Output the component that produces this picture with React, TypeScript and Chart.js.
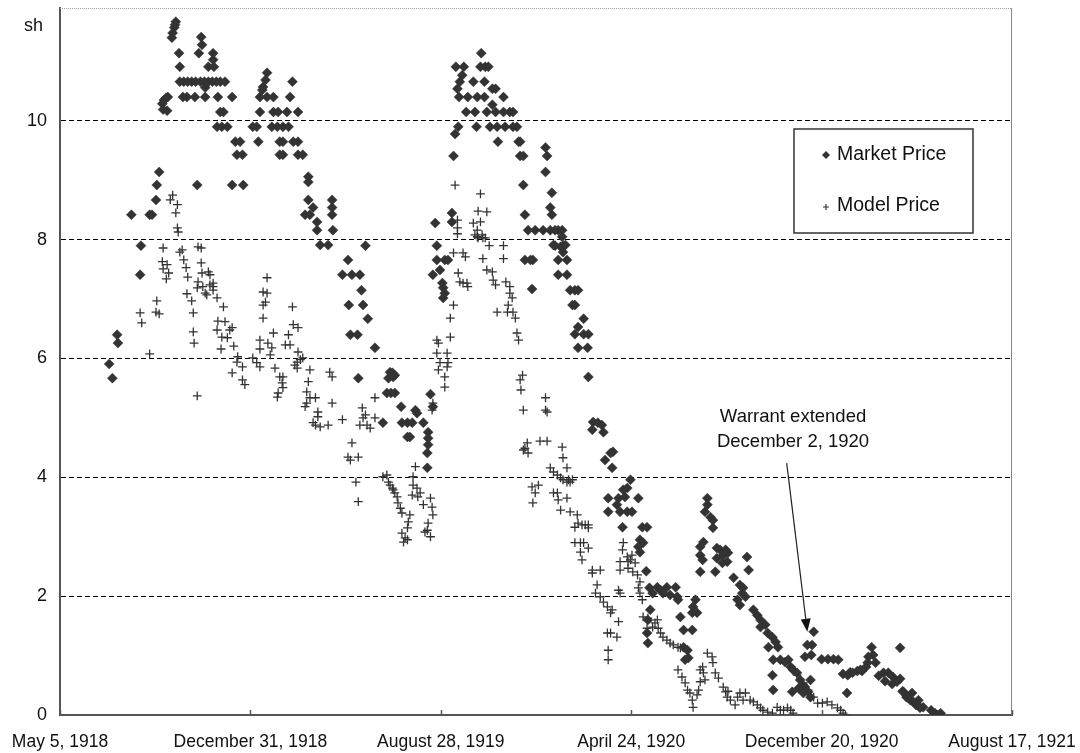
import React, { useEffect, useRef } from 'react';
import { Chart, registerables } from 'chart.js';

Chart.register(...registerables);

// x values are days counted from May 5, 1918
const xTickDays = [0, 240, 480, 720, 960, 1200];
const xTickLabels = ['May 5, 1918', 'December 31, 1918', 'August 28, 1919', 'April 24, 1920', 'December 20, 1920', 'August 17, 1921'];
const yTicks = [0, 2, 4, 6, 8, 10];
const Y_MAX = 11.9;
const X_MAX = 1200;
const yAxisTitle = 'sh';
const seriesNames = ['Market Price', 'Model Price'];
const annotationLines = ['Warrant extended', 'December 2, 1920'];
const annotationTip: [number, number] = [942, 1.4];
const annotationTail: [number, number] = [916, 4.24];
const annotationText: [number, number] = [924, 5.02];

// [day, shillings]
const marketPrice: [number, number][] = [
  [62, 5.91], [66, 5.67], [72, 6.40], [73, 6.26], [90, 8.42], [102, 7.90], [101, 7.41], [113, 8.42], [116, 8.42], [121, 8.67], [122, 8.92], [125, 9.14],
  [129, 10.29], [131, 10.35], [134, 10.39], [130, 10.19], [135, 10.17], [136, 10.40],
  [146, 11.67], [145, 11.62], [144, 11.57], [142, 11.48], [141, 11.40], [150, 11.14], [151, 10.91],
  [151, 10.66], [156, 10.66], [161, 10.66], [166, 10.66], [171, 10.66], [177, 10.66], [182, 10.66], [187, 10.66], [192, 10.66], [197, 10.66], [202, 10.66], [208, 10.66],
  [155, 10.40], [160, 10.40], [170, 10.40], [183, 10.40], [199, 10.40], [217, 10.40],
  [178, 11.41], [179, 11.28], [175, 11.14], [193, 11.14], [193, 11.03], [187, 10.91], [194, 10.91], [183, 10.56],
  [206, 10.15], [202, 10.15], [198, 9.90], [204, 9.90], [211, 9.90], [221, 9.65], [227, 9.65], [223, 9.43], [230, 9.43], [217, 8.92], [231, 8.92], [173, 8.92],
  [261, 10.81], [259, 10.69], [256, 10.57], [255, 10.52], [252, 10.40], [261, 10.40], [269, 10.40], [293, 10.66], [290, 10.40],
  [252, 10.15], [269, 10.15], [275, 10.15], [286, 10.15], [300, 10.15],
  [243, 9.90], [248, 9.90], [267, 9.90], [274, 9.90], [281, 9.90], [288, 9.90],
  [250, 9.65], [277, 9.65], [281, 9.65], [294, 9.65], [300, 9.65],
  [277, 9.43], [281, 9.43], [300, 9.43], [306, 9.43],
  [313, 9.06], [313, 8.97], [313, 8.67], [319, 8.54], [315, 8.42], [309, 8.42], [324, 8.30], [324, 8.16],
  [343, 8.67], [343, 8.54], [343, 8.42], [344, 8.16], [328, 7.91], [338, 7.91], [385, 7.90],
  [363, 7.66], [356, 7.41], [368, 7.41], [378, 7.41], [380, 7.15], [364, 6.90], [382, 6.90], [388, 6.67], [366, 6.40], [375, 6.40], [397, 6.18],
  [376, 5.67], [419, 5.76], [420, 5.69], [414, 5.67], [416, 5.77], [422, 5.72], [412, 5.42], [422, 5.42], [417, 5.42],
  [467, 5.40], [470, 5.19], [430, 5.19], [448, 5.13], [450, 5.08],
  [438, 4.92], [431, 4.92], [444, 4.92], [458, 4.92], [407, 4.92], [438, 4.68], [441, 4.68],
  [464, 4.76], [464, 4.66], [464, 4.55], [463, 4.41], [463, 4.16],
  [473, 8.28], [475, 7.90], [494, 8.45], [494, 8.30], [496, 9.41], [498, 9.78], [502, 9.90], [501, 10.54], [504, 10.66], [507, 10.77], [499, 10.91], [509, 10.91], [503, 10.40],
  [514, 10.40], [526, 10.40], [535, 10.40], [521, 10.66], [535, 10.66], [530, 10.91], [536, 10.91], [540, 10.91], [531, 11.14],
  [512, 10.15], [523, 10.15], [525, 9.90], [545, 10.54], [549, 10.54], [559, 10.40], [545, 10.27],
  [538, 10.15], [549, 10.15], [559, 10.15], [567, 10.15], [571, 10.15],
  [542, 9.90], [551, 9.90], [561, 9.90], [571, 9.90], [576, 9.90],
  [552, 9.65], [578, 9.65], [580, 9.65], [580, 9.41], [584, 9.41], [584, 8.92], [612, 9.55], [614, 9.41], [612, 9.14], [620, 8.79], [618, 8.54], [620, 8.42], [586, 8.42],
  [590, 8.16], [599, 8.16], [609, 8.16], [618, 8.16], [624, 8.16], [628, 8.16], [633, 8.16], [633, 8.05], [624, 7.90], [634, 7.90],
  [475, 7.66], [485, 7.66], [489, 7.66], [470, 7.41], [479, 7.49], [482, 7.27], [483, 7.19], [485, 7.10], [483, 7.02],
  [586, 7.66], [593, 7.66], [596, 7.66], [595, 7.17],
  [622, 7.91], [631, 7.88], [637, 7.91], [634, 7.79], [628, 7.66], [639, 7.66], [628, 7.41], [639, 7.41],
  [643, 7.15], [649, 7.15], [653, 7.15], [646, 6.90], [649, 6.90], [660, 6.67], [653, 6.53], [649, 6.41], [660, 6.41], [666, 6.41], [653, 6.18], [665, 6.18], [666, 5.69],
  [672, 4.93], [678, 4.92], [683, 4.88], [671, 4.80], [685, 4.76], [697, 4.43], [694, 4.41], [687, 4.29], [696, 4.16],
  [719, 3.96], [715, 3.82], [710, 3.79], [691, 3.65], [704, 3.65], [712, 3.67], [702, 3.54], [729, 3.65],
  [691, 3.42], [706, 3.42], [715, 3.42], [721, 3.42], [709, 3.16], [734, 3.16], [740, 3.16],
  [731, 2.95], [735, 2.90], [729, 2.83], [731, 2.74], [739, 2.42],
  [743, 2.14], [747, 2.05], [753, 2.15], [757, 2.10], [760, 2.05], [765, 2.15], [769, 2.02], [776, 2.15], [778, 1.99], [779, 1.94],
  [744, 1.77], [741, 1.60], [740, 1.38], [741, 1.21],
  [801, 1.94], [798, 1.82], [797, 1.72], [803, 1.72], [782, 1.65], [786, 1.43], [797, 1.43], [786, 1.14], [791, 1.09], [792, 0.96], [788, 0.93],
  [816, 3.65], [816, 3.54], [813, 3.42], [820, 3.33], [823, 3.28], [823, 3.15],
  [811, 2.91], [807, 2.83], [807, 2.69], [810, 2.61], [807, 2.41],
  [828, 2.81], [832, 2.78], [839, 2.78], [836, 2.69], [842, 2.73], [828, 2.64], [841, 2.58], [835, 2.56], [826, 2.41],
  [866, 2.66], [868, 2.44],
  [849, 2.31], [857, 2.19], [861, 2.14], [860, 2.05], [854, 1.94], [857, 1.85], [864, 1.99],
  [874, 1.77], [879, 1.68], [883, 1.60], [883, 1.48], [889, 1.52], [892, 1.38], [898, 1.31], [902, 1.23], [905, 1.14], [893, 1.14],
  [899, 0.93], [908, 0.93], [914, 0.89], [918, 0.93], [921, 0.81], [924, 0.76], [929, 0.71], [933, 0.59], [936, 0.51], [939, 0.47], [943, 0.39], [946, 0.30], [937, 0.37], [923, 0.39], [898, 0.67], [899, 0.42], [931, 0.45], [946, 0.59],
  [950, 1.40], [942, 1.18], [948, 1.18], [947, 1.01], [939, 0.98],
  [960, 0.94], [968, 0.94], [975, 0.94], [981, 0.93],
  [1023, 1.14], [1025, 1.01], [1059, 1.13],
  [987, 0.69], [996, 0.72], [1005, 0.74], [1011, 0.74], [1016, 0.81], [992, 0.37],
  [1032, 0.66], [1040, 0.57], [1049, 0.52], [1059, 0.61],
  [1062, 0.40], [1067, 0.30], [1074, 0.37], [1082, 0.25], [1079, 0.17], [1088, 0.13], [1098, 0.08], [1106, 0.0], [1103, 0.03], [1110, 0.03],
  [993, 0.67], [999, 0.71], [1009, 0.76], [1018, 0.88], [1019, 0.98], [1028, 0.88], [1038, 0.71], [1044, 0.71], [1050, 0.64], [1055, 0.56], [1063, 0.39], [1068, 0.30], [1072, 0.25], [1076, 0.22], [1081, 0.17], [1084, 0.12],
];

// [day, shillings]
const modelPrice: [number, number][] = [
  [142, 8.75], [139, 8.67], [148, 8.59], [146, 8.45], [148, 8.20], [149, 8.13],
  [130, 7.86], [154, 7.83], [174, 7.88], [178, 7.86], [151, 7.79],
  [156, 7.66], [129, 7.63], [135, 7.58], [130, 7.51], [137, 7.44], [134, 7.34],
  [159, 7.53], [161, 7.37], [178, 7.61], [179, 7.44], [187, 7.46], [189, 7.41],
  [174, 7.29], [173, 7.19], [180, 7.21], [183, 7.10], [185, 7.07], [193, 7.27], [193, 7.21], [193, 7.15], [189, 7.24],
  [160, 7.09], [166, 6.97], [168, 6.77], [198, 7.02], [206, 6.87],
  [122, 6.97], [101, 6.77], [103, 6.60], [121, 6.78], [125, 6.75],
  [168, 6.45], [169, 6.26], [113, 6.08], [173, 5.37],
  [199, 6.63], [208, 6.62], [198, 6.48], [204, 6.36], [211, 6.35], [214, 6.48], [217, 6.52],
  [203, 6.16], [219, 6.21],
  [224, 6.03], [223, 5.94], [230, 5.86], [217, 5.76], [230, 5.64], [233, 5.56],
  [243, 6.01], [248, 5.93], [252, 5.86],
  [256, 7.12], [261, 7.10], [256, 6.90], [259, 6.95], [261, 7.36], [256, 6.68],
  [252, 6.31], [252, 6.16], [262, 6.26], [267, 6.18], [269, 6.43], [265, 6.06],
  [271, 5.84], [277, 5.69], [281, 5.69], [280, 5.59], [275, 5.42], [274, 5.35], [281, 5.51],
  [293, 6.87], [294, 6.57], [300, 6.52], [288, 6.40], [284, 6.23], [290, 6.23],
  [300, 6.11], [299, 5.94], [303, 5.98], [306, 6.01], [296, 5.89], [299, 5.84], [315, 5.81],
  [313, 5.61], [311, 5.44], [315, 5.34], [322, 5.34], [311, 5.25], [309, 5.19],
  [325, 5.10], [325, 5.02], [319, 4.92], [322, 4.88], [328, 4.85], [338, 4.88],
  [340, 5.77], [343, 5.69], [343, 5.25], [356, 4.97],
  [381, 5.17], [385, 5.05], [382, 5.00], [378, 4.88], [387, 4.88], [391, 4.83], [397, 5.34], [397, 5.00],
  [368, 4.58], [363, 4.34], [366, 4.29], [376, 4.34], [373, 3.92], [376, 3.59],
  [407, 4.01], [412, 4.04], [414, 3.92], [416, 3.87], [419, 3.82], [420, 3.79], [422, 3.74], [425, 3.67], [426, 3.57], [429, 3.48], [431, 3.40], [441, 3.37], [439, 3.25], [438, 3.15], [431, 3.06], [433, 2.91], [438, 2.95], [435, 2.98],
  [444, 3.70], [445, 3.87], [450, 3.82], [451, 3.67], [454, 3.74], [445, 4.01], [448, 4.18],
  [458, 3.54], [467, 3.65], [469, 3.50], [470, 3.37], [464, 3.23], [463, 3.11], [467, 3.00], [460, 3.08],
  [475, 6.31], [477, 6.26], [475, 6.09], [488, 6.09], [479, 5.93], [489, 5.93], [477, 5.81], [488, 5.86], [485, 5.69], [485, 5.52], [470, 5.25], [469, 5.13], [492, 6.36], [492, 6.68], [496, 6.90],
  [496, 7.78], [508, 7.78], [511, 7.71], [502, 7.44], [504, 7.29], [513, 7.27], [514, 7.21], [508, 7.27],
  [501, 8.10], [526, 8.05], [532, 8.08], [536, 8.03], [541, 7.90], [533, 7.68], [538, 7.49], [545, 7.46], [546, 7.32], [549, 7.24], [551, 6.78], [559, 7.90], [559, 7.68], [562, 7.29], [567, 7.21], [570, 7.02], [565, 6.90], [564, 6.78], [571, 6.78], [574, 6.68], [576, 6.43], [578, 6.31], [567, 7.10],
  [498, 8.92], [530, 8.77], [527, 8.48], [538, 8.47], [501, 8.33], [501, 8.20], [521, 8.28], [530, 8.30], [526, 8.16], [523, 8.08], [527, 8.03], [533, 8.03],
  [583, 5.72], [580, 5.64], [581, 5.47], [584, 5.13], [612, 5.34], [612, 5.13], [614, 5.10],
  [589, 4.58], [586, 4.49], [590, 4.41], [584, 4.46], [605, 4.61], [614, 4.61],
  [633, 4.51], [634, 4.33], [639, 4.16],
  [618, 4.16], [622, 4.09], [627, 4.04], [631, 3.99], [634, 3.96], [639, 3.92], [643, 3.92],
  [595, 3.84], [599, 3.74], [603, 3.87], [596, 3.57],
  [622, 3.74], [628, 3.62], [631, 3.45], [627, 3.74], [639, 3.65], [643, 3.42], [652, 3.37], [653, 3.23], [649, 3.16], [658, 3.20], [662, 3.20], [666, 3.20], [649, 2.90], [656, 2.90], [660, 2.90], [656, 2.74],
  [641, 3.96], [646, 3.96],
  [666, 3.15], [666, 2.81], [658, 2.61], [671, 2.44], [681, 2.44], [671, 2.39], [677, 2.19], [675, 2.05], [681, 1.99], [685, 1.90], [690, 1.82], [696, 1.77], [694, 1.72], [704, 1.57], [690, 1.38], [694, 1.38], [702, 1.31], [691, 1.09], [691, 0.93],
  [704, 2.10], [706, 2.05], [710, 2.90], [709, 2.78], [706, 2.58], [715, 2.66], [716, 2.58], [719, 2.61], [721, 2.69], [706, 2.44], [716, 2.47], [722, 2.41], [728, 2.36], [725, 2.56],
  [731, 2.24], [729, 2.14], [731, 2.05], [734, 1.94], [735, 1.65], [741, 1.63], [740, 1.46], [747, 1.48], [750, 1.55], [753, 1.60], [754, 1.46], [757, 1.38], [760, 1.31], [765, 1.26], [769, 1.21], [773, 1.18], [779, 1.14], [782, 1.13],
  [779, 0.76], [784, 0.64], [788, 0.54], [791, 0.42], [794, 0.37], [797, 0.25], [798, 0.13], [803, 0.34], [805, 0.42], [807, 0.56], [807, 0.76], [810, 0.81], [811, 0.71], [813, 0.59], [816, 1.04], [822, 0.98], [823, 0.88], [826, 0.71], [830, 0.62], [836, 0.47], [839, 0.39], [841, 0.30], [845, 0.25], [851, 0.17], [857, 0.37], [864, 0.37], [870, 0.25], [874, 0.22], [879, 0.17], [883, 0.12], [886, 0.08], [892, 0.05], [898, 0.03], [904, 0.13], [908, 0.08], [912, 0.08], [917, 0.12], [921, 0.08], [924, 0.03],
  [842, 0.40], [854, 0.30], [861, 0.25],
  [929, 0.67], [937, 0.54], [943, 0.42], [950, 0.30], [955, 0.20],
  [961, 0.20], [967, 0.22], [973, 0.17], [980, 0.12], [984, 0.08], [987, 0.03], [990, 0.0],
];

const FONT = '"Liberation Sans", Arial, Helvetica, sans-serif';
const INK = '#333333';
const TEXT = '#111111';

const zeroPadding = (s: any) => {
  s.paddingLeft = 0;
  s.paddingRight = 0;
  s.paddingTop = 0;
  s.paddingBottom = 0;
};

const overlayPlugin = {
  id: 'overlay',
  afterDraw(chart: any) {
    const { ctx, chartArea: a, scales } = chart;
    const xs = scales.x;
    const ys = scales.y;
    ctx.save();
    // top dotted border
    ctx.strokeStyle = '#a0a0a0';
    ctx.lineWidth = 1;
    ctx.setLineDash([1, 1]);
    ctx.beginPath();
    ctx.moveTo(a.left, a.top + 0.5);
    ctx.lineTo(a.right, a.top + 0.5);
    ctx.stroke();
    ctx.setLineDash([]);
    // right border
    ctx.strokeStyle = '#888888';
    ctx.beginPath();
    ctx.moveTo(a.right - 0.5, a.top);
    ctx.lineTo(a.right - 0.5, a.bottom);
    ctx.stroke();
    // x tick marks (inside)
    ctx.strokeStyle = '#555555';
    ctx.lineWidth = 1.5;
    xTickDays.forEach((d) => {
      const px = Math.round(xs.getPixelForValue(d)) + 0.5;
      ctx.beginPath();
      ctx.moveTo(px, a.bottom);
      ctx.lineTo(px, a.bottom - 5);
      ctx.stroke();
    });
    // axis title
    ctx.fillStyle = TEXT;
    ctx.font = `18px ${FONT}`;
    ctx.textAlign = 'left';
    ctx.textBaseline = 'middle';
    ctx.fillText(yAxisTitle, 24, 26);

    // legend box
    const lx = 794, ly = 129, lw = 179, lh = 104;
    ctx.fillStyle = '#ffffff';
    ctx.fillRect(lx, ly, lw, lh);
    ctx.strokeStyle = '#333333';
    ctx.lineWidth = 1.5;
    ctx.strokeRect(lx, ly, lw, lh);
    // diamond
    ctx.fillStyle = INK;
    ctx.beginPath();
    const dx = 826, dy = 155, dr = 4;
    ctx.moveTo(dx - dr, dy);
    ctx.lineTo(dx, dy - dr);
    ctx.lineTo(dx + dr, dy);
    ctx.lineTo(dx, dy + dr);
    ctx.closePath();
    ctx.fill();
    // plus
    ctx.strokeStyle = INK;
    ctx.lineWidth = 1.2;
    const px0 = 826, py0 = 207, pr = 3;
    ctx.beginPath();
    ctx.moveTo(px0 - pr, py0);
    ctx.lineTo(px0 + pr, py0);
    ctx.moveTo(px0, py0 - pr);
    ctx.lineTo(px0, py0 + pr);
    ctx.stroke();
    ctx.fillStyle = TEXT;
    ctx.font = `19.5px ${FONT}`;
    ctx.textAlign = 'left';
    ctx.textBaseline = 'middle';
    ctx.fillText(seriesNames[0], 837, 155);
    ctx.fillText(seriesNames[1], 837, 206);

    // annotation
    const tx = xs.getPixelForValue(annotationText[0]);
    const ty = ys.getPixelForValue(annotationText[1]);
    ctx.font = `18.5px ${FONT}`;
    ctx.textAlign = 'center';
    ctx.fillText(annotationLines[0], tx, ty);
    ctx.fillText(annotationLines[1], tx, ty + 25);
    const x1 = xs.getPixelForValue(annotationTail[0]);
    const y1 = ys.getPixelForValue(annotationTail[1]);
    const x2 = xs.getPixelForValue(annotationTip[0]);
    const y2 = ys.getPixelForValue(annotationTip[1]);
    const ang = Math.atan2(y2 - y1, x2 - x1);
    const hl = 13, hw = 5;
    const bx = x2 - hl * Math.cos(ang);
    const by = y2 - hl * Math.sin(ang);
    ctx.strokeStyle = '#222222';
    ctx.lineWidth = 1.2;
    ctx.beginPath();
    ctx.moveTo(x1, y1);
    ctx.lineTo(bx, by);
    ctx.stroke();
    ctx.fillStyle = '#111111';
    ctx.beginPath();
    ctx.moveTo(x2, y2);
    ctx.lineTo(bx + hw * Math.sin(ang), by - hw * Math.cos(ang));
    ctx.lineTo(bx - hw * Math.sin(ang), by + hw * Math.cos(ang));
    ctx.closePath();
    ctx.fill();
    ctx.restore();
  },
};

export default function App() {
  const canvasRef = useRef<HTMLCanvasElement | null>(null);

  useEffect(() => {
    if (!canvasRef.current) return;
    const chart = new Chart(canvasRef.current, {
      type: 'scatter',
      data: {
        datasets: [
          {
            label: seriesNames[0],
            data: marketPrice.map(([x, y]) => ({ x, y })),
            pointStyle: 'rectRot',
            pointRadius: 5,
            pointBackgroundColor: INK,
            pointBorderColor: INK,
            pointBorderWidth: 0.5,
            showLine: false,
          },
          {
            label: seriesNames[1],
            data: modelPrice.map(([x, y]) => ({ x, y })),
            pointStyle: 'cross',
            pointRadius: 4.4,
            pointBorderColor: INK,
            pointBackgroundColor: INK,
            pointBorderWidth: 1.3,
            showLine: false,
          },
        ],
      },
      options: {
        responsive: false,
        animation: false,
        events: [],
        layout: { padding: { left: 0, top: 8, right: 68, bottom: 0 } },
        plugins: {
          legend: { display: false },
          tooltip: { enabled: false },
          title: { display: false },
        },
        scales: {
          x: {
            type: 'linear',
            min: 0,
            max: X_MAX,
            afterBuildTicks: (axis: any) => {
              axis.ticks = xTickDays.map((v) => ({ value: v }));
            },
            afterFit: (s: any) => {
              s.height = 38;
              zeroPadding(s);
            },
            ticks: {
              autoSkip: false,
              maxRotation: 0,
              padding: 17,
              color: TEXT,
              font: { family: FONT, size: 17.5 },
              callback: (v: any) => {
                const i = xTickDays.indexOf(Number(v));
                return i >= 0 ? xTickLabels[i] : '';
              },
            },
            grid: { display: false, drawTicks: false },
            border: { display: true, color: '#555555', width: 2 },
          },
          y: {
            type: 'linear',
            min: 0,
            max: Y_MAX,
            afterBuildTicks: (axis: any) => {
              axis.ticks = yTicks.map((v) => ({ value: v }));
            },
            afterFit: (s: any) => {
              s.width = 60;
              zeroPadding(s);
            },
            ticks: {
              padding: 13,
              color: TEXT,
              font: { family: FONT, size: 18 },
              callback: (v: any) => String(v),
            },
            grid: {
              drawTicks: false,
              lineWidth: 1,
              color: (c: any) => (c.tick && c.tick.value === 0 ? 'rgba(0,0,0,0)' : '#000000'),
            },
            border: { display: true, color: '#555555', width: 2, dash: [5, 3] },
          },
        },
      },
      plugins: [overlayPlugin],
    } as any);
    return () => chart.destroy();
  }, []);

  return (
    <div style={{ position: 'absolute', left: 0, top: 0, width: 1080, height: 753, background: '#ffffff' }}>
      <canvas ref={canvasRef} width={1080} height={753} style={{ display: 'block', width: 1080, height: 753 }} />
    </div>
  );
}
